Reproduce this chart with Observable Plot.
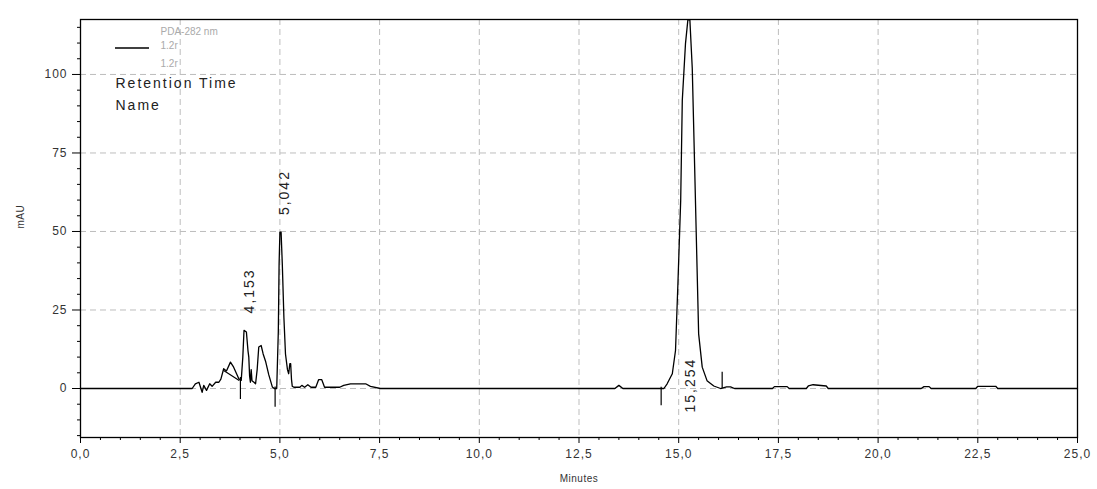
<!DOCTYPE html>
<html><head><meta charset="utf-8">
<script src="https://cdn.jsdelivr.net/npm/d3@7"></script>
<script src="https://cdn.jsdelivr.net/npm/@observablehq/plot@0.6"></script>
<style>body{margin:0;background:#fff;}</style>
</head><body><div id="chart"></div>
<script>
// Chromatogram trace (minutes, mAU)
const time = [0,2.80,2.88,2.97,3.05,3.09,3.16,3.24,3.30,3.39,3.47,3.52,3.59,3.66,3.76,3.84,3.97,4.03,4.07,4.10,4.16,4.20,4.22,4.24,4.26,4.28,4.30,4.35,4.39,4.43,4.47,4.53,4.58,4.64,4.72,4.81,4.86,4.92,4.96,4.98,5.00,5.03,5.06,5.10,5.14,5.19,5.22,5.25,5.27,5.29,5.31,5.35,5.50,5.55,5.62,5.70,5.78,5.90,5.97,6.05,6.12,6.50,6.60,6.77,7.15,7.27,7.52,13.40,13.50,13.60,14.63,14.71,14.84,14.92,14.98,15.05,15.09,15.17,15.23,15.28,15.34,15.40,15.46,15.50,15.59,15.71,15.88,16.05,16.20,16.30,16.40,17.35,17.40,17.72,17.77,18.20,18.25,18.37,18.70,18.75,21.08,21.15,21.28,21.33,22.45,22.50,22.95,23.00,25.0];
const mAU  = [0,0,1.5,2.0,-1.2,1.0,-0.6,1.5,0.7,2.0,2.0,3.0,6.3,5.6,8.4,6.8,3.1,2.6,10,18.5,18,12,10,4,2.0,6,2.5,2,1.5,6,13.2,13.7,11,8.7,4.4,0.5,0,0,18,39.7,49.8,49.8,39.7,22.7,11,6,4.7,7.9,7.9,3,0.7,0.4,0.4,1.0,0.4,1.2,0.4,0.4,2.8,2.8,0.4,0.4,1.0,1.5,1.5,0.7,0,0,1.0,0,0,1.5,4.7,12.1,33.3,59.9,91.7,109.8,117.4,117.4,102,70.5,38.6,17.4,6.8,2.5,0.8,0,0.5,0.5,0,0,0.6,0.6,0,0,0.8,1.2,0.8,0,0,0.6,0.6,0,0,0.7,0.7,0,0];

// Integration baseline segment under the early cluster
const baseT = [3.59,3.97];
const baseV = [5.7,2.6];

// Peak start/end markers
const markerT = [4.01,4.88,14.56,16.09];
const markerTop = [3.5,0.5,0.4,5.2];
const markerBottom = [-3.5,-6.0,-5.5,0];

// Peak labels
const peakT = [4.153,5.042,15.254];
const peakV = [18.5,49.8,117.4];
const peakLabel = ["4,153","5,042","15,254"];

// Axis ticks
const xMajor = d3.range(0,25.01,2.5);
const xMinor = d3.range(0,25.01,0.5).filter(d => Math.abs(d/2.5 - Math.round(d/2.5)) > 1e-6);
const yMajor = [0,25,50,75,100];
const yMinor = d3.range(-15,116,5).filter(d => d % 25 !== 0);

const trace = time.map((t,i) => ({t, v: mAU[i]}));
const baseSeg = baseT.map((t,i) => ({t, v: baseV[i]}));
const markers = markerT.map((t,i) => ({t, y1: markerTop[i], y2: markerBottom[i]}));
const peaks = peakT.map((t,i) => ({t, v: peakV[i], label: peakLabel[i]}));

const fmt = d => d3.format(".1f")(d).replace(".", ",");
const labelStyle = {fontSize: 14, fill: "#222"};
const bigTexts = new Set([...peakLabel, "Retention Time", "Name"]);

const chart = Plot.plot({
  width: 1097, height: 489,
  marginLeft: 80, marginRight: 20, marginTop: 19, marginBottom: 52,
  style: {fontFamily: "'Liberation Sans', Arial, sans-serif", fontSize: "12px", color: "#333", background: "#fff"},
  x: {domain: [0,25], label: null},
  y: {domain: [-15.6,117.5], label: null},
  marks: [
    Plot.gridX(xMajor, {stroke: "#bdbdbd", strokeOpacity: 1, strokeDasharray: "6,4"}),
    Plot.gridY(yMajor, {stroke: "#bdbdbd", strokeOpacity: 1, strokeDasharray: "6,4"}),
    Plot.axisX({ticks: xMinor, tickSize: 3, tickFormat: () => "", stroke: "#000"}),
    Plot.axisX({ticks: xMajor, tickSize: 6, tickPadding: 6, tickFormat: fmt, stroke: "#000", fill: "#333"}),
    Plot.axisY({ticks: yMinor, tickSize: 3, tickFormat: () => "", stroke: "#000"}),
    Plot.axisY({ticks: yMajor, tickSize: 8, tickPadding: 5, tickFormat: d => String(d), stroke: "#000", fill: "#333"}),
    Plot.line(trace, {x: "t", y: "v", stroke: "#000", strokeWidth: 1.3}),
    Plot.line(baseSeg, {x: "t", y: "v", stroke: "#000", strokeWidth: 1.2}),
    Plot.ruleX(markers, {x: "t", y1: "y1", y2: "y2", stroke: "#000", strokeWidth: 1.2}),
    Plot.text(peaks.filter(d => d.v < 100), {x: "t", y: "v", text: "label", rotate: -90, textAnchor: "start", lineAnchor: "middle", dx: 3, dy: -17, ...labelStyle}),
    Plot.text(peaks.filter(d => d.v >= 100), {x: "t", y: 0, text: "label", rotate: -90, textAnchor: "start", lineAnchor: "middle", dx: 2, dy: 24, ...labelStyle}),
    Plot.frame({stroke: "#000", strokeWidth: 1.3}),
    // axis titles
    Plot.text(["mAU"], {frameAnchor: "left", dx: -60, rotate: -90, fontSize: 10, fill: "#333", lineAnchor: "middle"}),
    Plot.text(["Minutes"], {frameAnchor: "bottom", dy: 41, fontSize: 10, fill: "#333", lineAnchor: "middle"}),
    // legend block
    Plot.text(["PDA-282 nm"], {frameAnchor: "top-left", dx: 80, dy: 8, textAnchor: "start", lineAnchor: "top", fontSize: 10, fill: "#aaa"}),
    Plot.text(["1.2r"], {frameAnchor: "top-left", dx: 80, dy: 22, textAnchor: "start", lineAnchor: "top", fontSize: 10, fill: "#aaa"}),
    Plot.text(["1.2r"], {frameAnchor: "top-left", dx: 80, dy: 40, textAnchor: "start", lineAnchor: "top", fontSize: 10, fill: "#aaa"}),
    Plot.text(["Retention Time"], {frameAnchor: "top-left", dx: 35, dy: 59, textAnchor: "start", lineAnchor: "top", ...labelStyle}),
    Plot.text(["Name"], {frameAnchor: "top-left", dx: 35, dy: 81, textAnchor: "start", lineAnchor: "top", ...labelStyle})
  ]
});

// letter spacing to mimic the instrument software's spaced type
d3.select(chart).selectAll("text").each(function() {
  const s = this.textContent;
  if (bigTexts.has(s)) this.setAttribute("letter-spacing", "2px");
  else if (/^[0-9,]+$/.test(s)) this.setAttribute("letter-spacing", "1px");
  else if (s === "Minutes" || s === "mAU") this.setAttribute("letter-spacing", "0.5px");
});

// legend swatch line
d3.select(chart).append("line")
  .attr("x1", 115).attr("x2", 149).attr("y1", 48).attr("y2", 48)
  .attr("stroke", "#000").attr("stroke-width", 1.5);

document.getElementById("chart").appendChild(chart);
</script>
</body></html>
